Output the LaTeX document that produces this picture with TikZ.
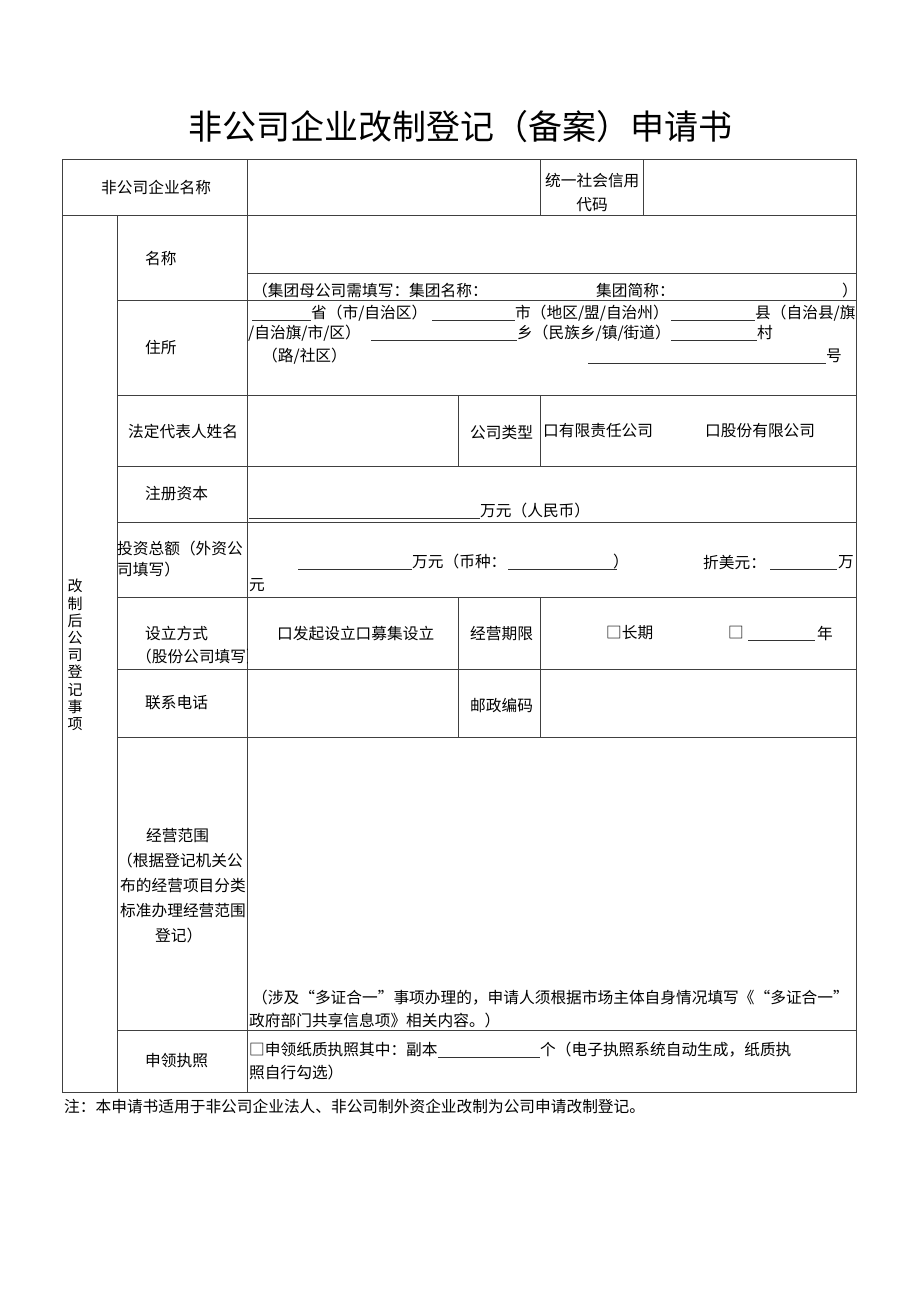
\documentclass[tikz,border=0pt]{standalone}
\usepackage{fontspec}
\setmainfont{Noto Sans CJK SC}
\newcommand{\bodyfs}{\fontsize{15.7}{18}\selectfont}
\tikzset{
  grid/.style={draw=black!75, line width=0.9pt},
  ul/.style={draw=black!80, line width=0.6pt},
  t/.style={anchor=west, inner sep=0pt, font=\bodyfs},
  tc/.style={anchor=center, inner sep=0pt, font=\bodyfs},
}
\begin{document}
\begin{tikzpicture}[x=1pt,y=-1pt]
\useasboundingbox (0,0) rectangle (920,1301);
% title
\node[inner sep=0pt, font=\fontsize{34}{40}\selectfont] (title) at (460,127) {非公司企业改制登记（备案）申请书};
% table grid
\draw[grid] (62,159) rectangle (856,1092);
\draw[grid] (62,215) -- (856,215);
\foreach \yy in {300,395,466,522,597,669,737,1030} \draw[grid] (117,\yy) -- (856,\yy);
\draw[grid] (247,273) -- (856,273);
\draw[grid] (117,215) -- (117,1092);
\draw[grid] (247,159) -- (247,1092);
\draw[grid] (540,159) -- (540,215);
\draw[grid] (643,159) -- (643,215);
\draw[grid] (458,395) -- (458,466);
\draw[grid] (540,395) -- (540,466);
\draw[grid] (458,597) -- (458,737);
\draw[grid] (540,597) -- (540,737);
% row 1
\node[t] (n1) at (101,187) {非公司企业名称};
\node[t] (n2) at (545,181) {统一社会信用};
\node[tc] (n3) at (592,205) {代码};
% name row
\node[t] (n4) at (145,259) {名称};
\node[t] (n5) at (252,291) {（集团母公司需填写：集团名称：};
\node[t] (n6) at (596,291) {集团简称：};
\node[t] (n7) at (842,291) {）};
% address row
\node[t] (n8) at (145,348) {住所};
\draw[ul] (252,320) -- (311,320);
\node[t] (a1) at (311,313) {省（市/自治区）};
\draw[ul] (432,320) -- (515,320);
\node[t] (a2) at (515,313) {市（地区/盟/自治州）};
\draw[ul] (671,320) -- (755,320);
\node[t] (a3) at (755,313) {县（自治县/旗};
\node[t] (a4) at (248,333) {/自治旗/市/区）};
\draw[ul] (371,340) -- (517,340);
\node[t] (a5) at (517,333) {乡（民族乡/镇/街道）};
\draw[ul] (671,340) -- (757,340);
\node[t] (a6) at (757,333) {村};
\node[t] (a7) at (262,356) {（路/社区）};
\draw[ul] (588,363) -- (826,363);
\node[t] (a8) at (826,356) {号};
% legal rep row
\node[t] (b1) at (128,431) {法定代表人姓名};
\node[t] (b2) at (470,433) {公司类型};
\node[t] (b3) at (543,431) {口有限责任公司};
\node[t] (b4) at (705,431) {口股份有限公司};
% registered capital
\node[t] (c1) at (145,494) {注册资本};
\draw[ul] (249,518) -- (480,518);
\node[t] (c2) at (480,511) {万元（人民币）};
% investment
\node[t] (d1) at (117,549) {投资总额（外资公};
\node[t] (d2) at (117,570) {司填写）};
\draw[ul] (298,569) -- (412,569);
\node[t] (d3) at (412,562) {万元（币种：};
\draw[ul] (508,569) -- (617,569);
\node[t] (d4) at (613,562) {）};
\node[t] (d5) at (703,562) {折美元：};
\draw[ul] (770,569) -- (837,569);
\node[t] (d6) at (838,562) {万};
\node[t] (d7) at (249,585) {元};
% establishment
\node[t] (e1) at (145,634) {设立方式};
\begin{scope}
\clip (117,597) rectangle (247,669);
\node[t] (e2) at (136,657) {（股份公司填写）};
\end{scope}
\node[t] (e3) at (277,634) {口发起设立口募集设立};
\node[t] (e4) at (470,634) {经营期限};
\node[t] (e5) at (606,633) {□长期};
\node[t] (e6) at (728,633) {□};
\draw[ul] (748,640) -- (815,640);
\node[t] (e7) at (817,633) {年};
% phone
\node[t] (f1) at (145,703) {联系电话};
\node[t] (f2) at (470,705) {邮政编码};
% scope
\node[t] (g1) at (146,836) {经营范围};
\node[t] (g2) at (117,861) {（根据登记机关公};
\node[t] (g3) at (120,886) {布的经营项目分类};
\node[t] (g4) at (120,911) {标准办理经营范围};
\node[t] (g5) at (155,936) {登记）};
\node[t] (g6) at (252,998) {（涉及“多证合一”事项办理的，申请人须根据市场主体自身情况填写《“多证合一”};
\node[t] (g7) at (249,1021) {政府部门共享信息项》相关内容。）};
% licence
\node[t] (h1) at (145,1061) {申领执照};
\node[t] (h2) at (249,1050) {□申领纸质执照其中：副本};
\draw[ul] (438,1057) -- (540,1057);
\node[t] (h3) at (540,1050) {个（电子执照系统自动生成，纸质执};
\node[t] (h4) at (249,1073) {照自行勾选）};
% vertical label
\node[inner sep=0pt, align=center, font=\fontsize{15}{17.2}\selectfont] (v) at (75,655) {改\\制\\后\\公\\司\\登\\记\\事\\项};
% note
\node[t] (note) at (64,1106) {注：本申请书适用于非公司企业法人、非公司制外资企业改制为公司申请改制登记。};
\end{tikzpicture}
\end{document}
